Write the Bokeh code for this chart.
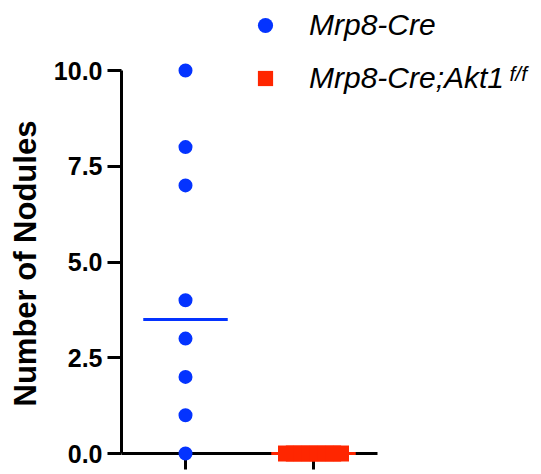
import numpy as np
from bokeh.plotting import figure
from bokeh.models import Range1d, FixedTicker, Legend, LegendItem, Label, Title
from bokeh.embed import file_html
from bokeh.resources import INLINE

# ---- data ----
groups = ["Mrp8-Cre", "Mrp8-Cre;Akt1"]
group_sup = "f/f"
group_x = [1, 2]
ctrl_values = [10, 8, 7, 4, 3, 2, 1, 0]
ko_values = [0, 0, 0, 0, 0, 0, 0, 0]
y_ticks = [0, 2.5, 5, 7.5, 10]
y_tick_labels = ["0.0", "2.5", "5.0", "7.5", "10.0"]
y_title = "Number of Nodules"

BLUE = "#0433FF"
RED = "#FF2600"
FONT = "Liberation Sans"
W, H = 541, 474
FRAME_LEFT = 121


def spread(values, center, width=0.43):
    vals = np.asarray(values, dtype=float)
    xs = np.full(len(vals), float(center))
    for v in np.unique(vals):
        idx = np.where(vals == v)[0]
        if len(idx) > 1:
            xs[idx] = center + np.linspace(-width / 2, width / 2, len(idx))
    return xs


p = figure(width=W, height=H, x_range=Range1d(0.5, 3.78125),
           y_range=Range1d(-0.548, 11.8277), output_backend="svg",
           toolbar_location=None, min_border_left=FRAME_LEFT, min_border_right=0,
           min_border_top=0, min_border_bottom=0)
p.grid.visible = False
p.outline_line_color = None

# y axis
ya = p.yaxis[0]
ya.ticker = FixedTicker(ticks=y_ticks)
ya.major_label_overrides = {t: l for t, l in zip(y_ticks, y_tick_labels)}
ya.bounds = (0, 10)
ya.axis_line_width = 3
ya.major_tick_line_width = 3
ya.major_tick_out = 14
ya.major_tick_in = 0
ya.minor_tick_line_color = None
ya.major_label_text_font = FONT
ya.major_label_text_font_style = "bold"
ya.major_label_text_font_size = "25px"
ya.major_label_text_color = "black"
ya.major_label_standoff = 5

# x axis
xa = p.xaxis[0]
xa.ticker = FixedTicker(ticks=group_x)
xa.major_label_text_font_size = "0px"
xa.major_label_text_color = None
xa.major_label_standoff = 0
xa.bounds = (0.5, 2.5)
xa.fixed_location = 0
xa.axis_line_width = 3
xa.major_tick_line_width = 3
xa.major_tick_in = -16
xa.major_tick_out = 0
xa.minor_tick_line_color = None

# y axis title, anchored so that it is centred on the axis extent
ytitle = Title(text=y_title, align="left", offset=68, vertical_align="top",
               standoff=11, text_font=FONT, text_font_style="bold",
               text_font_size="31px", text_color="black")
p.add_layout(ytitle, "left")

# medians
med = [float(np.median(ctrl_values)), float(np.median(ko_values))]
half = 0.33
p.segment(x0=[group_x[0] - half], y0=[med[0]], x1=[group_x[0] + half], y1=[med[0]],
          line_color=BLUE, line_width=3, level="overlay")
p.segment(x0=[group_x[1] - half], y0=[med[1]], x1=[group_x[1] + half], y1=[med[1]],
          line_color=RED, line_width=3, level="overlay")

r1 = p.scatter(x=spread(ctrl_values, group_x[0]), y=ctrl_values, marker="circle",
               size=14, fill_color=BLUE, line_color=None, level="overlay")
r2 = p.scatter(x=spread(ko_values, group_x[1]), y=ko_values, marker="square",
               size=16, fill_color=RED, line_color=None, level="overlay")

legend = Legend(items=[LegendItem(label=groups[0], renderers=[r1]),
                       LegendItem(label=groups[1], renderers=[r2])],
                location=(245 - FRAME_LEFT, 377), padding=0, margin=0, spacing=15,
                glyph_width=40, glyph_height=38, label_height=38,
                label_standoff=24, label_text_font=FONT,
                label_text_font_style="italic", label_text_font_size="30px",
                label_text_color="black",
                border_line_color=None, background_fill_alpha=0)
p.add_layout(legend)

# superscript of the second legend entry
sup = Label(x=3.53125, y=10.22, x_units="data", y_units="data",
            text=group_sup, text_font=FONT, text_font_style="italic",
            text_font_size="21px", text_baseline="top", text_color="black")
p.add_layout(sup)

open("out.html", "w").write(file_html(p, INLINE))
